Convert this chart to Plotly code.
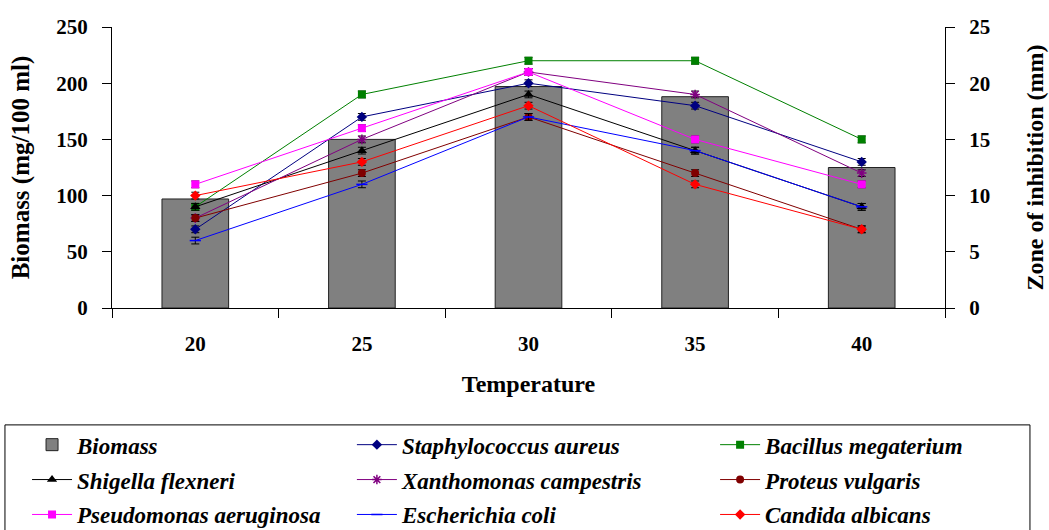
import plotly.graph_objects as go

temperature = ["20", "25", "30", "35", "40"]
biomass = [97, 150, 197, 188, 125]

staphylococcus = [7, 17, 20, 18, 13]
bacillus = [9, 19, 22, 22, 15]
shigella = [9, 14, 19, 14, 9]
xanthomonas = [8, 15, 21, 19, 12]
proteus = [8, 12, 17, 12, 7]
pseudomonas = [11, 16, 21, 15, 11]
ecoli = [6, 11, 17, 14, 9]
candida = [10, 13, 18, 11, 7]
err = 0.3

FONT = "Liberation Serif, Times New Roman, serif"

series = [
    ("Staphylococcus aureus", staphylococcus, "#000080", "diamond", 8, "legend2"),
    ("Bacillus megaterium", bacillus, "#008000", "square", 8, "legend3"),
    ("Shigella flexneri", shigella, "#000000", "triangle-up", 9, "legend"),
    ("Xanthomonas campestris", xanthomonas, "#800080", "asterisk-open", 8, "legend2"),
    ("Proteus vulgaris", proteus, "#800000", "circle", 8, "legend3"),
    ("Pseudomonas aeruginosa", pseudomonas, "#FF00FF", "square", 8, "legend"),
    ("Escherichia coli", ecoli, "#0000FF", "line-ew-open", 8, "legend2"),
    ("Candida albicans", candida, "#FF0000", "diamond", 8, "legend3"),
]

fig = go.Figure()
fig.add_trace(go.Bar(
    x=temperature, y=biomass, name="Biomass", width=0.4,
    marker=dict(color="#808080", line=dict(color="#222222", width=1)),
    legend="legend", legendgroup="g0", yaxis="y",
))
for i, (name, vals, color, sym, size, leg) in enumerate(series):
    fig.add_trace(go.Scatter(
        x=temperature, y=vals, name=name, mode="lines+markers",
        line=dict(color=color, width=1),
        marker=dict(color=color, symbol=sym, size=size,
                    line=dict(color=color, width=1.5 if "open" in sym else 0)),
        error_y=dict(type="constant", value=err, color="#000000", thickness=1, width=4),
        yaxis="y2", legend=leg, legendgroup=f"g{i+1}",
    ))

axfont = dict(family=FONT, size=21, color="black", weight="bold")
legfont = dict(family=FONT, size=23, color="black", weight="bold", style="italic")

def legend_cfg(x):
    return dict(x=x, xanchor="left", y=-0.41, yanchor="top", orientation="v",
                bgcolor="rgba(0,0,0,0)", borderwidth=0, font=legfont,
                tracegroupgap=2, itemwidth=40)

common_y = dict(showline=True, linecolor="black", linewidth=1, ticks="outside",
                ticklen=9, tickcolor="black", showgrid=False, zeroline=False,
                tickfont=axfont, automargin=False, ticklabelstandoff=10)

fig.update_layout(
    width=1049, height=530,
    margin=dict(l=112, r=104, t=27, b=222, autoexpand=False),
    paper_bgcolor="white", plot_bgcolor="white",
    font=dict(family=FONT, color="black"),
    barmode="overlay",
    xaxis=dict(
        type="category", showline=True, linecolor="black", linewidth=1,
        ticks="outside", ticklen=9, tickcolor="black", tickson="boundaries",
        tickfont=axfont, showgrid=False, automargin=False, ticklabelstandoff=17,
        title=dict(text="Temperature", font=dict(family=FONT, size=24, color="black", weight="bold"), standoff=19),
    ),
    xaxis2=dict(
        overlaying="x", range=[-0.5, 4.5], tickvals=[-0.5, 0.5, 1.5, 2.5, 3.5, 4.5],
        ticks="inside", ticklen=9, tickcolor="black", showticklabels=False,
        showline=False, showgrid=False, zeroline=False, side="bottom", automargin=False,
    ),
    yaxis=dict(
        range=[0, 250], dtick=50, **common_y,
        title=dict(text="Biomass (mg/100 ml)", font=dict(family=FONT, size=25, color="black", weight="bold"), standoff=19),
    ),
    yaxis2=dict(
        range=[0, 25], dtick=5, overlaying="y", side="right", **common_y,
        title=dict(text="Zone of inhibition (mm)", font=dict(family=FONT, size=24, color="black", weight="bold"), standoff=36),
    ),
    yaxis3=dict(
        range=[0, 250], dtick=50, overlaying="y", side="left", ticks="inside",
        ticklen=9, tickcolor="black", showticklabels=False, showline=False,
        showgrid=False, zeroline=False, automargin=False,
    ),
    yaxis4=dict(
        range=[0, 25], dtick=5, overlaying="y", side="right", ticks="inside",
        ticklen=9, tickcolor="black", showticklabels=False, showline=False,
        showgrid=False, zeroline=False, automargin=False,
    ),
    legend=legend_cfg(-0.102),
    legend2=legend_cfg(0.288),
    legend3=legend_cfg(0.724),
    shapes=[dict(type="rect", xref="paper", yref="paper",
                 x0=-0.1285, x1=1.102, y0=-0.416, y1=-0.82,
                 line=dict(color="black", width=1), fillcolor="rgba(0,0,0,0)")],
)

fig.write_html("out.html", config={"displayModeBar": False},
               post_script="document.body.style.margin='0px';document.body.style.padding='0px';")
